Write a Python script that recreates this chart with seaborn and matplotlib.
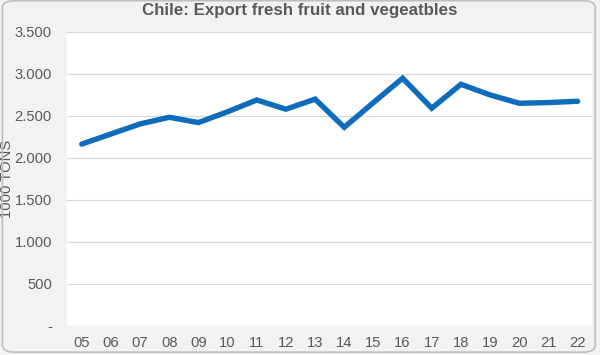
import matplotlib
matplotlib.use("Agg")
import matplotlib.pyplot as plt
import seaborn as sns
import pandas as pd
from matplotlib.patches import FancyBboxPatch

years = ["05", "06", "07", "08", "09", "10", "11", "12", "13", "14", "15", "16", "17", "18", "19", "20", "21", "22"]
exports = [2165, 2285, 2405, 2484, 2421, 2550, 2690, 2580, 2700, 2365, 2659, 2949, 2592, 2877, 2750, 2651, 2659, 2675]
ytick_values = [0, 500, 1000, 1500, 2000, 2500, 3000, 3500]
ytick_labels = ["-", "500", "1.000", "1.500", "2.000", "2.500", "3.000", "3.500"]

title = "Chile: Export fresh fruit and vegeatbles"
ylabel = "1000 TONS"

sns.set_style("white")
plt.rcParams['font.family'] = ['Liberation Sans', 'DejaVu Sans']

df = pd.DataFrame({"year": years, "exports": exports})

fig = plt.figure(figsize=(6.0, 3.55), dpi=100)
fig.patch.set_facecolor("#f2f2f2")
border = FancyBboxPatch((0.004, 0.008), 0.988, 0.99, boxstyle="round,pad=0,rounding_size=0.02",
                        transform=fig.transFigure, facecolor="none", edgecolor="#bfbfbf", linewidth=1.2)
fig.patches.append(border)

ax = fig.add_axes([0.112, 0.082, 0.875, 0.828])
ax.set_facecolor("white")
sns.lineplot(data=df, x="year", y="exports", ax=ax, color="#0f6cbd", linewidth=3.9,
             solid_joinstyle="miter", solid_capstyle="round", sort=False)

ax.set_xlim(-0.5, len(years) - 0.5)
ax.set_ylim(0, 3500)
ax.set_yticks(ytick_values)
ax.set_yticklabels(ytick_labels)
ax.yaxis.grid(True, color="#d9d9d9", linewidth=0.9)
ax.set_axisbelow(True)
for s in ax.spines.values():
    s.set_visible(False)
ax.tick_params(axis="both", length=0, labelsize=10.6, colors="#595959")
ax.tick_params(axis="y", pad=11)
ax.tick_params(axis="x", pad=7)
ax.set_xlabel("")
ax.set_ylabel(ylabel, fontsize=10.6, color="#595959")
ax.yaxis.label.set_va("center")
ax.yaxis.set_label_coords(7.5 / 600, (355 - 179) / 355, transform=fig.transFigure)

fig.text(0.5, 1 - 11 / 355, title, ha="center", va="center", fontsize=12.2, fontweight="bold", color="#595959")

fig.savefig("out.png", dpi=100, facecolor=fig.get_facecolor())
